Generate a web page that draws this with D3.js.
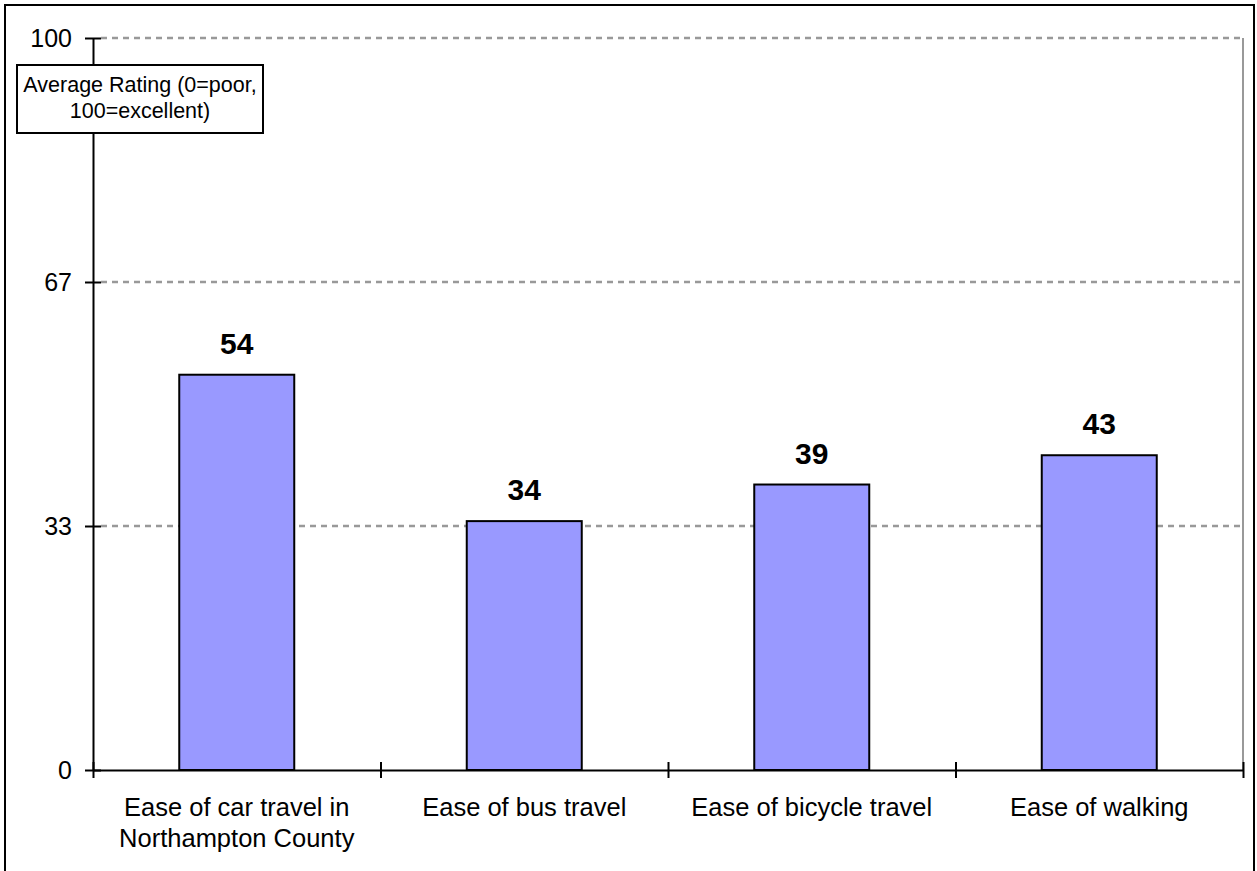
<!DOCTYPE html>
<html>
<head>
<meta charset="utf-8">
<script src="https://cdn.jsdelivr.net/npm/d3@7"></script>
<style>
  body { margin: 0; background: #fff; }
  svg { display: block; font-family: "Liberation Sans", Arial, sans-serif; }
</style>
</head>
<body>
<div id="chart"></div>
<script>
// data
const categories = [
  ["Ease of car travel in", "Northampton County"],
  ["Ease of bus travel"],
  ["Ease of bicycle travel"],
  ["Ease of walking"]
];
const ratings = [54, 34, 39, 43];
const tickValues = [0, 100 / 3, 200 / 3, 100];
const tickLabels = ["0", "33", "67", "100"];
const axisTitle = ["Average Rating (0=poor,", "100=excellent)"];

const W = 1257, H = 871;
const margin = { top: 38, right: 14, bottom: 101, left: 93 };
const width = W - margin.left - margin.right,
  height = H - margin.top - margin.bottom;

const svg = d3.select("#chart")
  .append("svg")
  .attr("width", W)
  .attr("height", H);

// outer frame
svg.append("rect")
  .attr("x", 5).attr("y", 5)
  .attr("width", 1249).attr("height", 880)
  .attr("fill", "#fff")
  .attr("stroke", "#000")
  .attr("stroke-width", 2);

const g = svg.append("g")
  .attr("transform", `translate(${margin.left},${margin.top})`);

const x = d3.scaleBand()
  .domain(d3.range(categories.length))
  .range([0, width])
  .paddingInner(0.6)
  .paddingOuter(0.3);
// category boundaries for the x ticks
const xb = d3.scaleLinear().domain([0, categories.length]).range([0, width]);

const y = d3.scaleLinear().domain([0, 100]).range([height, 0]);

// gridlines
g.append("g")
  .selectAll("line")
  .data(tickValues.slice(1))
  .enter()
  .append("line")
  .attr("x1", 8).attr("x2", width)
  .attr("y1", d => y(d)).attr("y2", d => y(d))
  .attr("stroke", "#999")
  .attr("stroke-width", 2.5)
  .attr("stroke-dasharray", "6,5");

// right border of plot area
g.append("line")
  .attr("x1", width).attr("x2", width)
  .attr("y1", 0).attr("y2", height)
  .attr("stroke", "#999")
  .attr("stroke-width", 2);

// bars
g.append("g")
  .selectAll("rect")
  .data(ratings)
  .enter()
  .append("rect")
  .attr("x", (d, i) => x(i))
  .attr("y", d => y(d))
  .attr("width", x.bandwidth())
  .attr("height", d => height - y(d))
  .attr("fill", "#9999ff")
  .attr("stroke", "#000")
  .attr("stroke-width", 2);

// value labels
g.append("g")
  .selectAll("text")
  .data(ratings)
  .enter()
  .append("text")
  .attr("x", (d, i) => x(i) + x.bandwidth() / 2)
  .attr("y", d => y(d) - 21)
  .attr("text-anchor", "middle")
  .style("font-size", "30px")
  .style("font-weight", "bold")
  .text(d => d);

// y axis
const yAxis = g.append("g")
  .call(d3.axisLeft(y).tickValues(tickValues).tickFormat((d, i) => tickLabels[i])
    .tickSizeInner(8).tickSizeOuter(0).tickPadding(13));
yAxis.select(".domain").attr("stroke", "#000").attr("stroke-width", 2);
yAxis.selectAll(".tick line").attr("stroke-width", 2)
  .attr("x1", 8).attr("x2", -8);
yAxis.selectAll(".tick text").style("font-size", "25px").style("font-family", "Liberation Sans, Arial, sans-serif")
  .attr("fill", "#000");

// x axis
const xAxis = g.append("g")
  .attr("transform", `translate(0,${height})`)
  .call(d3.axisBottom(xb).tickValues(d3.range(categories.length + 1)).tickFormat("")
    .tickSizeInner(8).tickSizeOuter(0));
xAxis.select(".domain").attr("stroke", "#000").attr("stroke-width", 2);
xAxis.selectAll(".tick line").attr("stroke-width", 2)
  .attr("y1", -8).attr("y2", 8);

// category labels
const cat = g.append("g")
  .selectAll("text")
  .data(categories)
  .enter()
  .append("text")
  .attr("x", (d, i) => x(i) + x.bandwidth() / 2)
  .attr("y", height + 46)
  .attr("text-anchor", "middle")
  .style("font-size", "25.5px");
cat.selectAll("tspan")
  .data(d => d)
  .enter()
  .append("tspan")
  .attr("x", function () { return d3.select(this.parentNode).attr("x"); })
  .attr("dy", (d, i) => i === 0 ? 0 : 31)
  .text(d => d);

// axis title box
const box = svg.append("g");
box.append("rect")
  .attr("x", 17).attr("y", 65)
  .attr("width", 246).attr("height", 68)
  .attr("fill", "#fff")
  .attr("stroke", "#000")
  .attr("stroke-width", 2);
box.append("text")
  .attr("text-anchor", "middle")
  .style("font-size", "21.5px")
  .selectAll("tspan")
  .data(axisTitle)
  .enter()
  .append("tspan")
  .attr("x", 140)
  .attr("y", (d, i) => 92 + i * 26)
  .text(d => d);
</script>
</body>
</html>
